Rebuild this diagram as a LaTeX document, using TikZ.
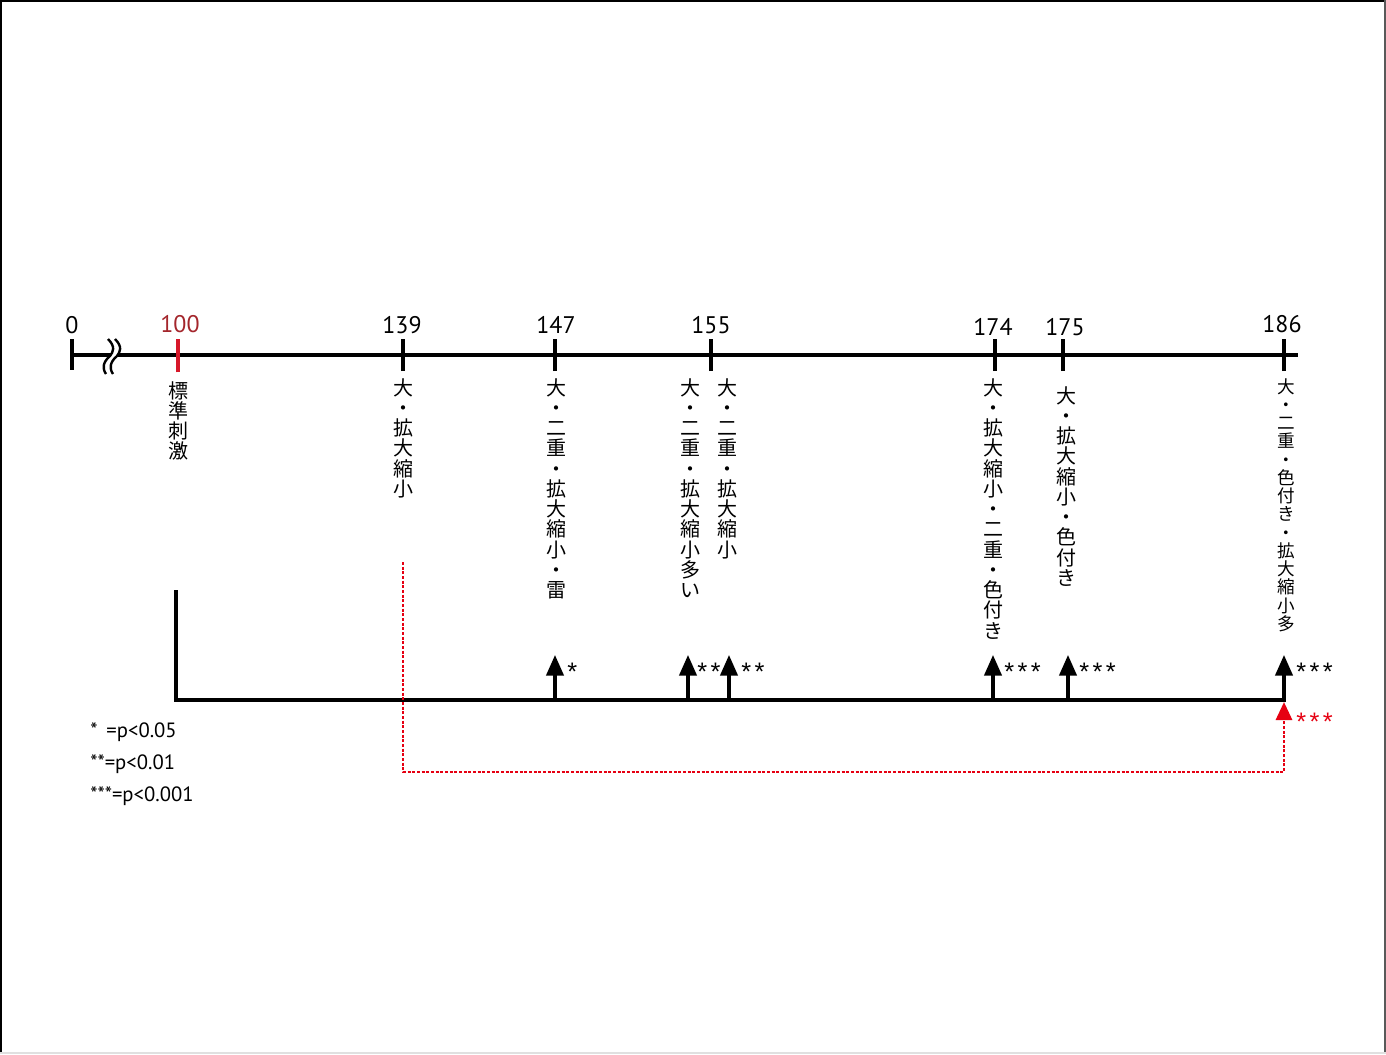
\documentclass[tikz,border=0pt]{standalone}
\usepackage{fontspec}
\setmainfont{PT Sans}
\newfontfamily\cjk{Noto Sans CJK JP}
\newfontfamily\starfont{Liberation Sans}
\usetikzlibrary{arrows.meta}
\definecolor{numred}{HTML}{A4262C}
\definecolor{tickred}{HTML}{D7182A}
\definecolor{dotred}{HTML}{E60012}
\newcommand\threestar{*\kern2.6pt*\kern2.6pt*}
\newcommand\twostar{*\kern2.6pt*}
\begin{document}
\begin{tikzpicture}[x=0.75pt,y=-0.75pt,
  axisline/.style={line width=2.4pt},
  tickmark/.style={line width=2.4pt},
  num/.style={font=\fontsize{18}{20}\selectfont, inner sep=0pt, anchor=base},
  vlabel/.style={font=\cjk\fontsize{15}{15.2}\selectfont, align=center, inner sep=0pt, anchor=north},
  vlabelsmall/.style={font=\cjk\fontsize{13.2}{13.7}\selectfont, align=center, inner sep=0pt, anchor=north},
  legend/.style={font=\fontsize{15.5}{17}\selectfont, inner sep=0pt, anchor=base west},
  sig/.style={font=\starfont\fontsize{19}{20}\selectfont, inner sep=0pt, anchor=base west},
  sigarrow/.style={line width=2.4pt, -{Triangle[width=13pt,length=15.5pt]}},
  reddot/.style={dotred, line width=2.2pt, dash pattern=on 2.2pt off 1.3pt, -{Triangle[width=12pt,length=13.5pt]}},
  breakline/.style={line width=1.8pt}
]
\useasboundingbox (0,0) rectangle (1386,1054);
% frame
\fill[white] (0,0) rectangle (1386,1054);
\draw[black, line width=1.6pt] (0,1) -- (1386,1);
\draw[black, line width=1.5pt] (1,0) -- (1,1054);
\draw[black!65, line width=1.2pt] (1385,0) -- (1385,1054);
\draw[black!12, line width=1pt] (0,1053) -- (1386,1053);

% axis coordinates
\coordinate (a0) at (72,355);
\coordinate (aend) at (1298,355);
\coordinate (t100) at (178,355);
\coordinate (t139) at (403,355);
\coordinate (t147) at (555,355);
\coordinate (t155) at (711,355);
\coordinate (t174) at (995,355);
\coordinate (t175) at (1063,355);
\coordinate (t186) at (1284,355);

\draw[axisline] (a0) -- (aend);
\draw[tickmark] ([yshift=-11]a0) -- ([yshift=12]a0);
\foreach \t in {t139,t147,t155,t174,t175,t186}
  \draw[tickmark] ([yshift=-12]\t) -- ([yshift=12]\t);
\draw[tickmark, tickred] ([yshift=-13]t100) -- ([yshift=12]t100);

% break mark
\fill[white] (108,339) .. controls (116,347) and (113,352) .. (110,356) .. controls (103,362) and (102,368) .. (106,374)
  -- (113,374) .. controls (109,368) and (110,362) .. (117,356) .. controls (120,352) and (123,347) .. (115,339) -- cycle;
\draw[breakline] (108,339) .. controls (116,347) and (113,352) .. (110,356) .. controls (103,362) and (102,368) .. (106,374);
\draw[breakline] (115,339) .. controls (123,347) and (120,352) .. (117,356) .. controls (110,362) and (109,368) .. (113,374);

% numbers
\node[num] (n0) at (72,333) {0};
\node[num, text=numred] (n100) at (180,332) {100};
\node[num] (n139) at (402,333) {139};
\node[num] (n147) at (556,333) {147};
\node[num] (n155) at (711,333) {155};
\node[num] (n174) at (993,335) {174};
\node[num] (n175) at (1065,335) {175};
\node[num] (n186) at (1282,332) {186};

% vertical labels
\node[vlabel] (l100) at (178,381) {標\\準\\刺\\激};
\node[vlabel] (l139) at (403,378) {大\\・\\拡\\大\\縮\\小};
\node[vlabel] (l147) at (556,378) {大\\・\\二\\重\\・\\拡\\大\\縮\\小\\・\\雷};
\node[vlabel] (l155a) at (690,378) {大\\・\\二\\重\\・\\拡\\大\\縮\\小\\多\\い};
\node[vlabel] (l155b) at (727,378) {大\\・\\二\\重\\・\\拡\\大\\縮\\小};
\node[vlabel] (l174) at (993,378) {大\\・\\拡\\大\\縮\\小\\・\\二\\重\\・\\色\\付\\き};
\node[vlabel] (l175) at (1066,386) {大\\・\\拡\\大\\縮\\小\\・\\色\\付\\き};
\node[vlabelsmall] (l186) at (1286,378) {大\\・\\二\\重\\・\\色\\付\\き\\・\\拡\\大\\縮\\小\\多};

% lower chart
\coordinate (c0) at (176,592);
\coordinate (c1) at (176,700);
\coordinate (c2) at (1284,700);
\draw[axisline, line cap=rect] (c0) -- (c1) -- (c2);

% red dotted connector
\coordinate (r0) at (403,562);
\coordinate (r1) at (403,772);
\coordinate (r2) at (1284,772);
\coordinate (r3) at (1284,702);
\draw[reddot] (r0) -- (r1) -- (r2) -- (r3);

% significance arrows
\foreach \x [count=\i] in {555,688,729,993,1068,1284}{
  \coordinate (b\i) at (\x,700);
  \coordinate (h\i) at (\x,655);
  \draw[sigarrow] (b\i) -- (h\i);
}
\node[sig] (s1) at (567,680) {*};
\node[sig] (s2) at (697,680) {\twostar};
\node[sig] (s3) at (741,680) {\twostar};
\node[sig] (s4) at (1004,680) {\threestar};
\node[sig] (s5) at (1079,680) {\threestar};
\node[sig] (s6) at (1296,680) {\threestar};
\node[sig, text=dotred] (s7) at (1296,730) {\threestar};

% legend
\node[legend] (g1) at (90,737) {*\, =p<0.05};
\node[legend] (g2) at (90,769) {**=p<0.01};
\node[legend] (g3) at (90,801) {***=p<0.001};
\end{tikzpicture}
\end{document}
